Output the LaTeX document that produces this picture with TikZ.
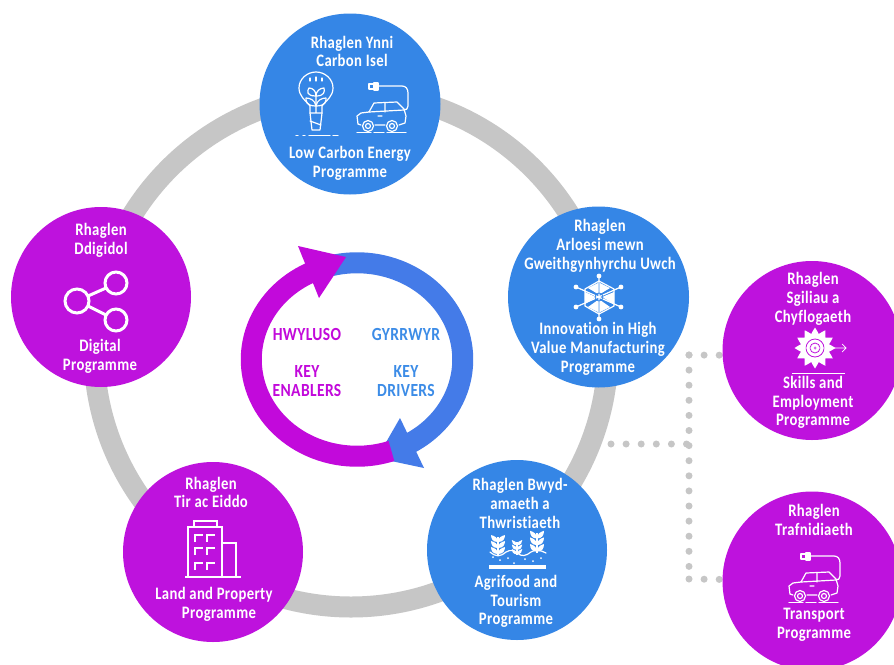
\documentclass[tikz,border=0pt]{standalone}
\usepackage{fontspec}
\usetikzlibrary{backgrounds}
\setmainfont{Carlito}[BoldFont=Carlito Bold,Ligatures=NoCommon]
\newfontfamily\narrowlab{Carlito Bold}[FakeStretch=0.84,Ligatures=NoCommon,LetterSpace=2]
\definecolor{cblue}{HTML}{3586E6}
\definecolor{cpurple}{HTML}{BE12DD}
\definecolor{apurple}{HTML}{C209DB}
\definecolor{ablue}{HTML}{447BE8}
\definecolor{tblue}{HTML}{3C8CE7}
\definecolor{ringgrey}{HTML}{C6C6C6}
\tikzset{
  bluedisc/.style={circle,fill=cblue,minimum size=181pt,inner sep=0pt},
  purpledisc/.style={circle,fill=cpurple,minimum size=179pt,inner sep=0pt},
  lab/.style={text=white,align=center,inner sep=0pt,font=\fontsize{17.5}{18.7}\narrowlab},
  keylab/.style={align=center,inner sep=0pt,font=\fontsize{18.5}{18.5}\narrowlab},
  dots/.style={draw=ringgrey,line width=7pt,line cap=round,dash pattern=on 0pt off 15.1pt},
  icon/.style={draw=white,line width=1.2pt,line cap=round,line join=round},
  carplug/.pic={
    \draw[icon] (358,124) -- (357,116) -- (361,113) -- (369,112) -- (374,103) -- (397,102) -- (404,109) -- (406,116) -- (405,123) -- (399,125);
    \draw[icon] (358,124) -- (361,125) (375,125) -- (385,125);
    \draw[icon] (385,103) -- (385,112) (369,112) -- (404,110) (378,116) -- (382,116);
    \draw[icon] (368,126) circle (5.5) (368,126) circle (2.5) (392,126) circle (5.5) (392,126) circle (2.5);
    \draw[icon,dash pattern=on 14pt off 3pt on 10pt off 3pt on 20pt off 3pt] (357,132.5) -- (406,132.5);
    \draw[icon] (378,86) -- (402,86) .. controls (406,86) and (408,89) .. (408,93) -- (408,106) .. controls (408,109) and (406,110) .. (404,110);
    \draw[icon,fill=white] (374,83) rectangle (378,90);
    \draw[icon] (369,84) rectangle (374,89);
  },
  sprig/.pic={
    \draw[draw=white,line width=1.2pt] (0,8) -- (0,-10);
    \foreach \h in {5,-1,-7} {
      \fill[white] (0,\h+2) .. controls (-5,\h+2) and (-7,\h-1) .. (-7,\h-5) .. controls (-3,\h-4) and (0,\h-2) .. (0,\h+2);
      \fill[white] (0,\h+2) .. controls (5,\h+2) and (7,\h-1) .. (7,\h-5) .. controls (3,\h-4) and (0,\h-2) .. (0,\h+2);
    }
  }
}
\begin{document}
\begin{tikzpicture}[x=1pt,y=-1pt]
\clip (0,0) rectangle (894,664);
% ring
\draw[ringgrey,line width=21pt] (351,350) circle (257pt);
\coordinate (j1) at (689,355);
\coordinate (j2) at (689,444);
\coordinate (j3) at (689,579);
\coordinate (d0) at (611,444);
% discs
\node[bluedisc] (energy) at (350,104) {};
\node[bluedisc] (innov) at (598.5,297) {};
\node[purpledisc,minimum size=180pt] (digital) at (101,297) {};
\node[purpledisc,minimum size=180pt] (land) at (213,552) {};
\node[bluedisc,minimum size=180pt] (agri) at (517,550) {};
\node[purpledisc] (skills) at (812,350.5) {};
\node[purpledisc] (transport) at (812,581) {};
% dotted connectors, beneath everything
\begin{pgfonlayer}{background}
\fill[white] (0,0) rectangle (894,664);
\draw[dots] (j1) -- (j3);
\draw[dots] (d0) -- (j2);
\draw[dots] (j1) -- (skills.183);
\draw[dots] (j3) -- (transport.179);
\end{pgfonlayer}
% central cycle
\draw[ablue,line width=21pt] plot[domain=256:420,samples=60] ({357+105.75*cos(\x)},{359.5+96.75*sin(\x)});
\fill[ablue] (400,418) -- (424,468) -- (377,458) -- cycle;
\draw[apurple,line width=21pt] plot[domain=71:247,samples=60] ({357+105.75*cos(\x)},{359.5+96.75*sin(\x)});
\fill[apurple] (298,246) -- (346,257) -- (319,298) -- cycle;
% labels
\node[lab] (e1) at (352,51.5) {Rhaglen Ynni\\Carbon Isel};
\node[lab] (e2) at (350,163) {Low Carbon Energy\\Programme};
\node[lab] (i1) at (600,246) {Rhaglen\\Arloesi mewn\\Gweithgynhyrchu Uwch};
\node[lab] (i2) at (598,349) {Innovation in High\\Value Manufacturing\\Programme};
\node[lab] (d1) at (101,240) {Rhaglen\\Ddigidol};
\node[lab] (d2) at (100,356.5) {Digital\\Programme};
\node[lab] (l1) at (211,492.5) {Rhaglen\\Tir ac Eiddo};
\node[lab] (l2) at (214,604) {Land and Property\\\hspace*{10pt}Programme};
\node[lab] (a1) at (520,503.5) {Rhaglen Bwyd-\\amaeth a\\Thwristiaeth};
\node[lab] (a2) at (516,601.5) {Agrifood and\\Tourism\\Programme};
\node[lab] (s1) at (813,299) {Rhaglen\\Sgiliau a\\Chyflogaeth};
\node[lab] (s2) at (813,402.5) {Skills and\\Employment\\Programme};
\node[lab] (t1) at (814,520) {Rhaglen\\Trafnidiaeth};
\node[lab] (t2) at (814,624.5) {Transport\\Programme};
\node[keylab,text=apurple] (k1) at (307,334) {HWYLUSO};
\node[keylab,text=apurple] (k2) at (307,381) {KEY\\ENABLERS};
\node[keylab,text=tblue] (k3) at (406,334) {GYRRWYR};
\node[keylab,text=tblue] (k4) at (406,381) {KEY\\DRIVERS};
% bulb icon
\draw[icon] (310,106) .. controls (305,100) and (299,96) .. (299,88) .. controls (299,79) and (307,72) .. (316,72) .. controls (325,72) and (333,79) .. (333,88) .. controls (333,96) and (327,100) .. (322,106) -- (322,113) -- (320,130) -- (312,130) -- (310,113) -- cycle;
\draw[icon] (310,113) -- (322,113) (310,121) -- (321,125) (316,96) -- (316,113);
\draw[icon] (316,96) .. controls (306,96) and (307,91) .. (309,88) .. controls (313,88) and (316,91) .. (316,96) .. controls (316,91) and (320,88) .. (324,88) .. controls (325,92) and (324,96) .. (316,96);
\draw[icon] (316,106) .. controls (306,106) and (306,101) .. (306,98) .. controls (310,98) and (315,100) .. (316,106) .. controls (317,100) and (322,98) .. (326,98) .. controls (326,101) and (326,106) .. (316,106);
\draw[icon] (310,78) -- (310,81) (316,77) -- (316,81) (322,78) -- (322,81);
\draw[icon] (296,135.5) -- (298,135.5) (303,135.5) -- (305,135.5) (309,135.5) -- (330,135.5) (333,135.5) -- (338,135.5);
\pic at (0,0) {carplug};
\pic at (432,470) {carplug};
% network icon
\draw[icon] (599,276) -- (599,319) (576,287) -- (621,307) (576,307) -- (621,287);
\draw[icon] (599,281) -- (614,289) -- (614,306) -- (599,314) -- (585,306) -- (585,289) -- cycle;
\fill[white] (585,292) -- (596,297) -- (585,304) -- cycle (614,292) -- (602,297) -- (614,304) -- cycle (588,288) -- (598,283) -- (598,294) -- cycle (610,288) -- (600,283) -- (600,294) -- cycle (588,307) -- (598,312) -- (598,300) -- cycle (610,307) -- (600,312) -- (600,300) -- cycle;
\draw[cblue,line width=.8pt] (599,297) circle (4);
\foreach \p in {(599,276),(599,319),(576,287),(621,287),(576,307),(621,307)} \fill[white] \p circle (2.4);
% share icon
\draw[draw=white,line width=3pt] (77,301) circle (12) (116,283) circle (11) (116,320) circle (11) (88,296) -- (106,288) (88,306) -- (106,315);
% building icon
\draw[draw=white,line width=2.2pt,line join=miter] (185,577) -- (241,577) (188,577) -- (188,527) -- (222,527) -- (222,577) (194,527) -- (194,521) -- (217,521) -- (217,527) (222,543) -- (236,543) -- (236,577);
\foreach \a in {195,207} \foreach \b in {535,548,563} \draw[draw=white,line width=2.2pt] (\a,\b+7) -- (\a,\b) -- (\a+8,\b);
% plants icon
\fill[white] (489,565) rectangle (546,569);
\draw[icon] (490,552) .. controls (496,557) and (500,557) .. (506,552) .. controls (511,549) and (514,551) .. (517,553) .. controls (522,557) and (526,556) .. (531,552) .. controls (536,549) and (540,550) .. (546,553);
\pic at (498,547) {sprig};
\pic[scale=.75] at (517,549) {sprig};
\pic[yscale=1.1] at (537,544) {sprig};
\foreach \p in {(493,557),(500,560),(508,558),(514,563),(525,559),(533,561),(541,558)} \fill[white] \p circle (1);
% gear icon
\fill[white] plot[domain=0:360,samples=49] ({815+(mod(round(\x/7.5),4)==0 ? 20.5 : (mod(round(\x/7.5),2)==0 ? 14.5 : 17))*cos(\x)},{348+(mod(round(\x/7.5),4)==0 ? 20.5 : (mod(round(\x/7.5),2)==0 ? 14.5 : 17))*sin(\x)}) -- cycle;
\draw[cpurple,line width=.8pt] (815,348) circle (9) (815,348) circle (5);
\fill[cpurple] (815,348) circle (1.5);
\draw[draw=white,line width=.7pt] (796,348) -- (846,348) (842,344) -- (846,348) -- (842,352);
\draw[draw=white,line width=.7pt] (792,373.5) -- (845,373.5);
\end{tikzpicture}
\end{document}
